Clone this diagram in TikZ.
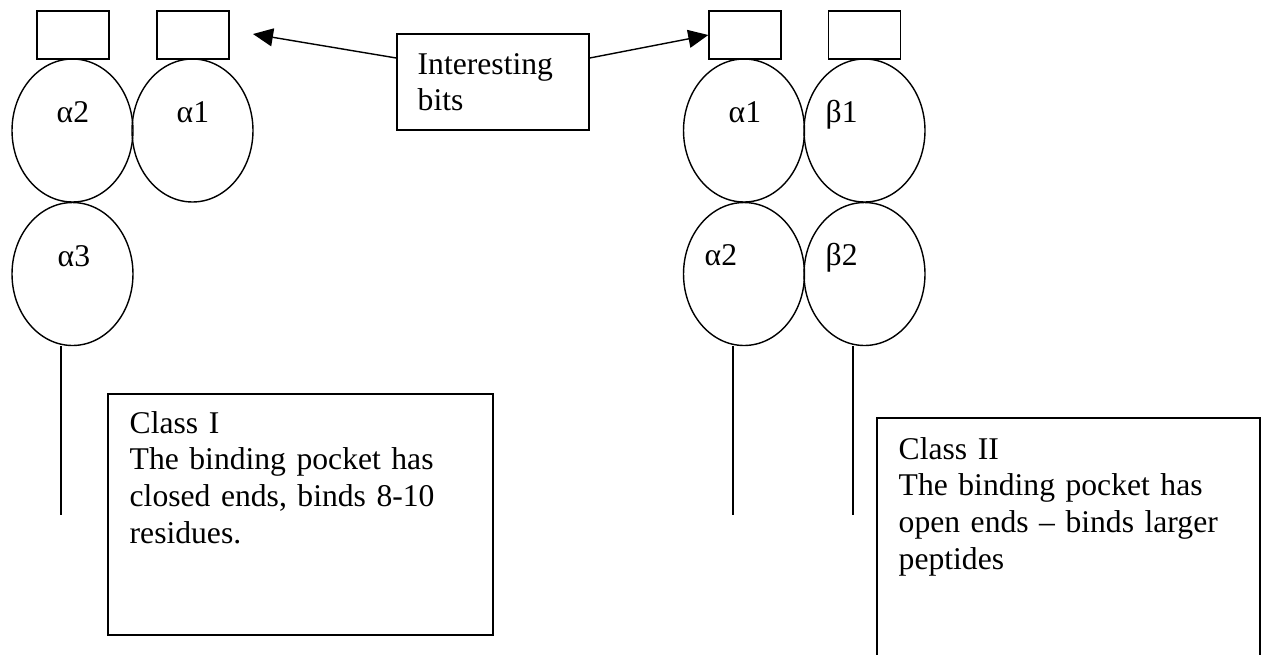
\documentclass[tikz,border=0pt]{standalone}
\usepackage{fontspec}
\setmainfont{Liberation Serif}
\usetikzlibrary{arrows.meta, shapes.geometric}

\begin{document}
\begin{tikzpicture}[x=0.02cm, y=-0.02cm, line width=0.8pt,
	tipbox/.style={rectangle, draw, minimum width=1.44cm, minimum height=0.96cm, inner sep=0pt},
	lobe/.style={ellipse, draw, minimum width=2.42cm, minimum height=2.86cm, inner sep=0pt},
	notebox/.style={rectangle, draw, inner sep=0pt},
	lbl/.style={anchor=base west, inner sep=0pt, font=\fontsize{18}{21}\selectfont},
	note/.style={lbl, text width=7cm, align=left},
	pointer/.style={-{Triangle[length=0.4cm, width=0.36cm]}}]
	\useasboundingbox (0,0) rectangle (1267,654);
	% class I molecule
	\node[tipbox] (c1b1) at (73,35) {};
	\node[tipbox] (c1b2) at (193,35) {};
	\foreach \n/\x/\y in {c1a2/72.5/130.5, c1a1/192.5/130.5, c1a3/72.5/274} {
		\node[lobe] (\n) at (\x,\y) {};
	}
	\node[lbl] (c1a2t) at (56,122) {α2};
	\node[lbl] (c1a1t) at (176,122) {α1};
	\node[lbl] (c1a3t) at (57,266) {α3};
	\coordinate (c1e) at (61,515);
	\draw (c1a3.south -| c1e) -- (c1e);
	% class II molecule
	\node[tipbox] (c2b1) at (745,35) {};
	\node[tipbox] (c2b2) at (864.5,35) {};
	\foreach \n/\x/\y in {c2a1/744/130.5, c2b1e/864.5/130.5, c2a2/744/274, c2b2e/864.5/274} {
		\node[lobe] (\n) at (\x,\y) {};
	}
	\node[lbl] (c2a1t) at (728,122) {α1};
	\node[lbl] (c2b1t) at (825,122) {β1};
	\node[lbl] (c2a2t) at (704,265) {α2};
	\node[lbl] (c2b2t) at (825,265) {β2};
	\coordinate (c2ea) at (733,515);
	\coordinate (c2eb) at (853,515);
	\draw (c2a2.south -| c2ea) -- (c2ea);
	\draw (c2b2e.south -| c2eb) -- (c2eb);
	% labels
	\node[notebox, minimum width=3.84cm, minimum height=1.92cm] (bits) at (493,82) {};
	\node[note, text width=3cm] (bitsT) at (417,74) {Interesting\\bits};
	\coordinate (tipL) at (253,34);
	\draw[pointer] ([yshift=0.48cm]bits.west) -- (tipL);
	\draw[pointer] ([yshift=0.48cm]bits.east) -- (c2b1.west);
	\node[notebox, minimum width=7.7cm, minimum height=4.82cm] (cls1) at (300.5,514.5) {};
	\node[note] (cls1T) at (129,433) {Class I\\The binding pocket has\\closed ends, binds 8-10\\residues.};
	\node[notebox, minimum width=7.66cm, minimum height=4.82cm] (cls2) at (1068.5,538.5) {};
	\node[note] (cls2T) at (898,459) {Class II\\The binding pocket has\\open ends -- binds larger\\peptides};
\end{tikzpicture}
\end{document}
